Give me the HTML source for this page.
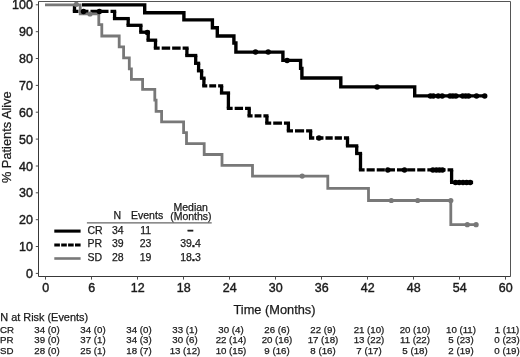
<!DOCTYPE html>
<html><head><meta charset="utf-8"><title>Kaplan-Meier</title>
<style>
html,body{margin:0;padding:0;background:#fff;}
body{width:520px;height:357px;overflow:hidden;font-family:"Liberation Sans",Arial,sans-serif;}
svg{display:block;}
text{font-family:"Liberation Sans",Arial,sans-serif;fill:#1a1a1a;stroke:#1a1a1a;stroke-width:0.25px;}
.t12 text{stroke-width:0.4px;}
</style></head><body>
<svg width="520" height="357" viewBox="0 0 520 357">
<rect width="520" height="357" fill="#fff"/>

<g fill="none" stroke="#4c4c4c" stroke-width="1">
<path d="M38.5,1.5H510.5V276.5" stroke="#555"/>
<path d="M38.5,1.5V276.5H510.5" stroke="#383838"/>
<path d="M35.8,273.4H38.5"/>
<path d="M35.8,246.5H38.5"/>
<path d="M35.8,219.7H38.5"/>
<path d="M35.8,192.8H38.5"/>
<path d="M35.8,166.0H38.5"/>
<path d="M35.8,139.1H38.5"/>
<path d="M35.8,112.2H38.5"/>
<path d="M35.8,85.4H38.5"/>
<path d="M35.8,58.5H38.5"/>
<path d="M35.8,31.7H38.5"/>
<path d="M35.8,4.8H38.5"/>
<path d="M45.5,276.5V279.6"/>
<path d="M91.5,276.5V279.6"/>
<path d="M137.5,276.5V279.6"/>
<path d="M183.5,276.5V279.6"/>
<path d="M229.5,276.5V279.6"/>
<path d="M275.5,276.5V279.6"/>
<path d="M321.5,276.5V279.6"/>
<path d="M367.5,276.5V279.6"/>
<path d="M413.5,276.5V279.6"/>
<path d="M459.5,276.5V279.6"/>
<path d="M505.5,276.5V279.6"/>
</g>
<g font-size="12" text-anchor="end" class="t12">
<text transform="translate(32.9,278) scale(1.04,1)">0</text>
<text transform="translate(32.9,251) scale(1.04,1)">10</text>
<text transform="translate(32.9,224) scale(1.04,1)">20</text>
<text transform="translate(32.9,197) scale(1.04,1)">30</text>
<text transform="translate(32.9,171) scale(1.04,1)">40</text>
<text transform="translate(32.9,144) scale(1.04,1)">50</text>
<text transform="translate(32.9,117) scale(1.04,1)">60</text>
<text transform="translate(32.9,90) scale(1.04,1)">70</text>
<text transform="translate(32.9,63) scale(1.04,1)">80</text>
<text transform="translate(32.9,36) scale(1.04,1)">90</text>
<text transform="translate(32.9,9) scale(1.04,1)">100</text>
</g>
<g font-size="12" text-anchor="middle" class="t12">
<text transform="translate(45.7,292) scale(1.04,1)">0</text>
<text transform="translate(91.7,292) scale(1.04,1)">6</text>
<text transform="translate(137.7,292) scale(1.04,1)">12</text>
<text transform="translate(183.7,292) scale(1.04,1)">18</text>
<text transform="translate(229.7,292) scale(1.04,1)">24</text>
<text transform="translate(275.7,292) scale(1.04,1)">30</text>
<text transform="translate(321.7,292) scale(1.04,1)">36</text>
<text transform="translate(367.7,292) scale(1.04,1)">42</text>
<text transform="translate(413.7,292) scale(1.04,1)">48</text>
<text transform="translate(459.7,292) scale(1.04,1)">54</text>
<text transform="translate(505.7,292) scale(1.04,1)">60</text>
</g>
<text x="274.5" y="314" font-size="12.8" text-anchor="middle">Time (Months)</text>
<text transform="translate(10.6,137.2) rotate(-90)" font-size="12.8" text-anchor="middle">% Patients Alive</text>
<path d="M82.0,4.9H144.7V12.7H183.9V19.9H212.4V27.7H217.3V36.0H233.9V43.0H235.9V52.1H282.9V60.4H300.6V68.4H301.9V78.0H340.8V86.9H414.7V95.9H485.3" fill="none" stroke="#000" stroke-width="3.4"/>
<g fill="none" stroke="#000" stroke-width="3.3"><path d="M74.5,4.9V11.4"/><path d="M72.8,11.4H116.2" stroke-dasharray="8.02,2.00" stroke-dashoffset="2.36"/><path d="M114.6,11.4V18.6"/><path d="M112.9,18.6H129.8"/><path d="M128.2,18.6V25.3"/><path d="M126.5,25.3H142.5"/><path d="M140.8,25.3V32.2"/><path d="M139.2,32.2H149.8"/><path d="M148.2,32.2V40.2"/><path d="M146.5,40.2H157.2"/><path d="M155.5,40.2V48.2"/><path d="M153.8,48.2H188.6" stroke-dasharray="8.47,2.00" stroke-dashoffset="2.58"/><path d="M186.9,48.2V55.5"/><path d="M185.2,55.5H197.3"/><path d="M195.7,55.5V63.3"/><path d="M194.0,63.3H200.2"/><path d="M198.6,63.3V70.8"/><path d="M196.9,70.8H203.2"/><path d="M201.6,70.8V78.2"/><path d="M199.9,78.2H205.6"/><path d="M203.9,78.2V85.9"/><path d="M202.2,85.9H223.2" stroke-dasharray="6.85,2.00" stroke-dashoffset="1.77"/><path d="M221.6,85.9V93.0"/><path d="M219.9,93.0H230.1"/><path d="M228.4,93.0V108.4"/><path d="M226.8,108.4H250.8" stroke-dasharray="8.40,2.00" stroke-dashoffset="2.55"/><path d="M249.2,108.4V115.9"/><path d="M247.5,115.9H268.5" stroke-dasharray="6.85,2.00" stroke-dashoffset="1.77"/><path d="M266.9,115.9V123.1"/><path d="M265.2,123.1H290.0" stroke-dasharray="8.75,2.00" stroke-dashoffset="2.73"/><path d="M288.4,123.1V130.8"/><path d="M286.8,130.8H312.2" stroke-dasharray="9.10,2.00" stroke-dashoffset="2.90"/><path d="M310.6,130.8V138.0"/><path d="M309.0,138.0H349.1" stroke-dasharray="7.22,2.00" stroke-dashoffset="1.96"/><path d="M347.5,138.0V145.9"/><path d="M345.9,145.9H358.3"/><path d="M356.7,145.9V153.5"/><path d="M355.1,153.5H362.1"/><path d="M360.5,153.5V169.9"/><path d="M358.9,169.9H453.2" stroke-dasharray="8.12,2.00" stroke-dashoffset="2.41"/><path d="M451.6,169.9V182.4"/><path d="M450.0,182.4H473.1" stroke-dasharray="7.95,2.00" stroke-dashoffset="2.32"/></g>
<path d="M45.0,4.9H80.2V13.8H98.8V24.6H101.8V36.0H119.2V46.8H123.6V57.8H129.3V68.8H131.4V79.4H142.6V89.4H154.8V100.1H156.1V111.3H161.6V121.8H183.6V132.7H186.5V143.7H204.2V154.5H222.0V165.3H252.5V176.1H327.8V188.4H368.5V200.5H450.8V224.7H476.1" fill="none" stroke="#787878" stroke-width="2.8"/>
<circle cx="255.5" cy="52.1" r="2.75" fill="#000"/><circle cx="268.2" cy="52.1" r="2.75" fill="#000"/><circle cx="287.1" cy="60.4" r="2.75" fill="#000"/><circle cx="377.1" cy="86.9" r="2.75" fill="#000"/><circle cx="430.4" cy="95.9" r="2.75" fill="#000"/><circle cx="433.3" cy="95.9" r="2.75" fill="#000"/><circle cx="438.2" cy="95.9" r="2.75" fill="#000"/><circle cx="442.2" cy="95.9" r="2.75" fill="#000"/><circle cx="450.0" cy="95.9" r="2.75" fill="#000"/><circle cx="452.9" cy="95.9" r="2.75" fill="#000"/><circle cx="455.9" cy="95.9" r="2.75" fill="#000"/><circle cx="462.7" cy="95.9" r="2.75" fill="#000"/><circle cx="465.7" cy="95.9" r="2.75" fill="#000"/><circle cx="468.6" cy="95.9" r="2.75" fill="#000"/><circle cx="476.5" cy="95.9" r="2.75" fill="#000"/><circle cx="484.7" cy="95.9" r="2.75" fill="#000"/>
<circle cx="83.5" cy="11.4" r="2.75" fill="#000"/><circle cx="99.4" cy="11.4" r="2.75" fill="#000"/><circle cx="147.3" cy="32.4" r="2.75" fill="#000"/><circle cx="319.0" cy="138.0" r="2.75" fill="#000"/><circle cx="387.8" cy="169.9" r="2.75" fill="#000"/><circle cx="404.5" cy="169.9" r="2.75" fill="#000"/><circle cx="432.9" cy="169.9" r="2.75" fill="#000"/><circle cx="436.3" cy="169.9" r="2.75" fill="#000"/><circle cx="439.4" cy="169.9" r="2.75" fill="#000"/><circle cx="442.4" cy="169.9" r="2.75" fill="#000"/><circle cx="455.5" cy="182.4" r="2.75" fill="#000"/><circle cx="459.2" cy="182.4" r="2.75" fill="#000"/><circle cx="463.0" cy="182.4" r="2.75" fill="#000"/><circle cx="466.6" cy="182.4" r="2.75" fill="#000"/><circle cx="470.2" cy="182.4" r="2.75" fill="#000"/>
<circle cx="76.3" cy="4.3" r="2.6" fill="#787878"/><circle cx="90.0" cy="14.0" r="2.6" fill="#787878"/><circle cx="302.2" cy="176.1" r="2.6" fill="#787878"/><circle cx="391.3" cy="200.5" r="2.6" fill="#787878"/><circle cx="417.7" cy="200.5" r="2.6" fill="#787878"/><circle cx="450.8" cy="200.5" r="2.6" fill="#787878"/><circle cx="467.3" cy="224.7" r="2.6" fill="#787878"/><circle cx="476.1" cy="224.7" r="2.6" fill="#787878"/>
<path d="M54.3,231.1H80.6" stroke="#000" stroke-width="3.1"/>
<path d="M54.3,245H80.6" stroke="#000" stroke-width="3" stroke-dasharray="5.6,1.3"/>
<path d="M54.3,258.5H80.6" stroke="#787878" stroke-width="2.6"/>
<path d="M86.9,222.8H211.7" stroke="#666" stroke-width="1.3"/>
<g font-size="10.5">
<text x="117.3" y="219" text-anchor="middle">N</text>
<text x="147.1" y="219" text-anchor="middle">Events</text>
<text x="190.7" y="211" text-anchor="middle">Median</text>
<text x="190.9" y="220" text-anchor="middle">(Months)</text>
<text x="87.5" y="234">CR</text><text x="117.8" y="234" text-anchor="middle">34</text><text x="145.6" y="234" text-anchor="middle">11</text><text x="190.5" y="234" text-anchor="middle"><tspan font-weight="bold" style="stroke-width:0.6px">–</tspan></text>
<text x="87.5" y="247">PR</text><text x="117.8" y="247" text-anchor="middle">39</text><text x="145.6" y="247" text-anchor="middle">23</text><text x="190.5" y="247" text-anchor="middle">39<tspan font-weight="bold" style="stroke-width:0.7px">.</tspan>4</text>
<text x="87.5" y="261">SD</text><text x="117.8" y="261" text-anchor="middle">28</text><text x="145.6" y="261" text-anchor="middle">19</text><text x="190.5" y="261" text-anchor="middle">18<tspan font-weight="bold" style="stroke-width:0.7px">.</tspan>3</text>
</g>
<text x="0.3" y="321" font-size="10.9">N at Risk (Events)</text>
<g font-size="9.7">
<text x="0" y="333">CR</text>
<text x="47.0" y="333" text-anchor="middle">34 (0)</text>
<text x="93.0" y="333" text-anchor="middle">34 (0)</text>
<text x="139.0" y="333" text-anchor="middle">34 (0)</text>
<text x="185.0" y="333" text-anchor="middle">33 (1)</text>
<text x="231.0" y="333" text-anchor="middle">30 (4)</text>
<text x="277.0" y="333" text-anchor="middle">26 (6)</text>
<text x="323.0" y="333" text-anchor="middle">22 (9)</text>
<text x="369.0" y="333" text-anchor="middle">21 (10)</text>
<text x="415.0" y="333" text-anchor="middle">20 (10)</text>
<text x="461.0" y="333" text-anchor="middle">10 (11)</text>
<text x="507.0" y="333" text-anchor="middle">1 (11)</text>
<text x="0" y="343">PR</text>
<text x="47.0" y="343" text-anchor="middle">39 (0)</text>
<text x="93.0" y="343" text-anchor="middle">37 (1)</text>
<text x="139.0" y="343" text-anchor="middle">34 (3)</text>
<text x="185.0" y="343" text-anchor="middle">30 (6)</text>
<text x="231.0" y="343" text-anchor="middle">22 (14)</text>
<text x="277.0" y="343" text-anchor="middle">20 (16)</text>
<text x="323.0" y="343" text-anchor="middle">17 (18)</text>
<text x="369.0" y="343" text-anchor="middle">13 (22)</text>
<text x="415.0" y="343" text-anchor="middle">11 (22)</text>
<text x="461.0" y="343" text-anchor="middle">5 (23)</text>
<text x="507.0" y="343" text-anchor="middle">0 (23)</text>
<text x="0" y="354">SD</text>
<text x="47.0" y="354" text-anchor="middle">28 (0)</text>
<text x="93.0" y="354" text-anchor="middle">25 (1)</text>
<text x="139.0" y="354" text-anchor="middle">18 (7)</text>
<text x="185.0" y="354" text-anchor="middle">13 (12)</text>
<text x="231.0" y="354" text-anchor="middle">10 (15)</text>
<text x="277.0" y="354" text-anchor="middle">9 (16)</text>
<text x="323.0" y="354" text-anchor="middle">8 (16)</text>
<text x="369.0" y="354" text-anchor="middle">7 (17)</text>
<text x="415.0" y="354" text-anchor="middle">5 (18)</text>
<text x="461.0" y="354" text-anchor="middle">2 (19)</text>
<text x="507.0" y="354" text-anchor="middle">0 (19)</text>
</g>
</svg></body></html>
